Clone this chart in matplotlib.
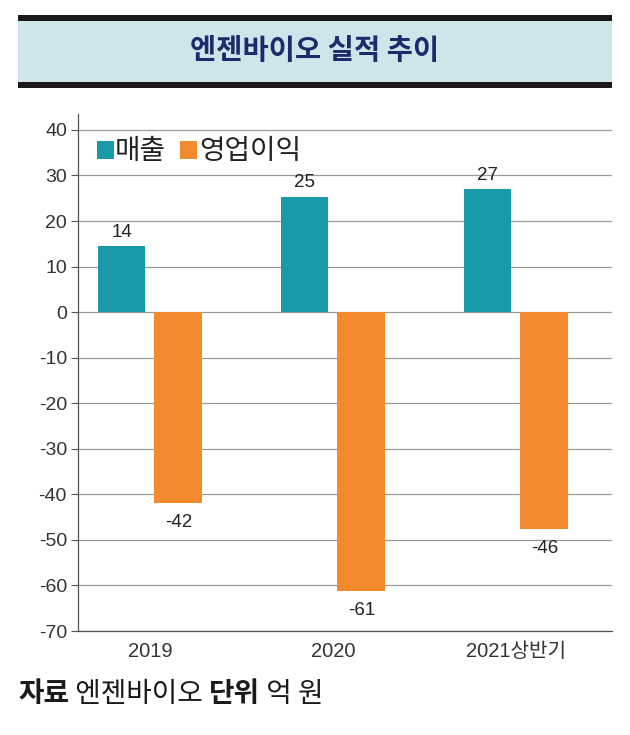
import matplotlib
matplotlib.use("Agg")
import matplotlib.pyplot as plt
import numpy as np
from matplotlib import font_manager
from matplotlib.patches import Rectangle

# data (억 원)
years = ["2019", "2020", "2021상반기"]
sales = [14.5, 25.3, 27.0]          # bar heights as drawn
op_profit = [-42.0, -61.3, -47.7]
sales_labels = ["14", "25", "27"]
op_labels = ["-42", "-61", "-46"]
yticks = [40, 30, 20, 10, 0, -10, -20, -30, -40, -50, -60, -70]

TEAL = "#1a9aa9"
ORANGE = "#f28a30"

names = {f.name for f in font_manager.fontManager.ttflist}
narrow = "Liberation Sans Narrow" if "Liberation Sans Narrow" in names else "Liberation Sans"
KR = "Noto Sans CJK KR"
NUM_FONT = [narrow, KR]
plt.rcParams["font.family"] = [KR, "DejaVu Sans"]

fig = plt.figure(figsize=(6.3, 7.35), dpi=100)
W, H = 630, 735


def fx(px):
    return px / W


def fy(py):
    return 1 - py / H


# title banner
fig.patches.append(Rectangle((fx(18), fy(88)), fx(594), (88 - 15) / H,
                             transform=fig.transFigure, facecolor="#cfe5ea",
                             edgecolor="none"))
for top, bot in [(15, 21), (82, 88)]:
    fig.patches.append(Rectangle((fx(18), fy(bot)), fx(594), (bot - top) / H,
                                 transform=fig.transFigure, facecolor="#1a1a1a",
                                 edgecolor="none"))
fig.text(fx(315), fy(51), "엔젠바이오 실적 추이", ha="center", va="center",
         fontsize=20.5, fontweight="bold", color="#1f2a6b", family=[KR])

ax = fig.add_axes([fx(78), fy(631), fx(612 - 78), (631 - 114) / H])

x = np.arange(len(years))
w = 0.26
off = 0.155
ax.bar(x - off, sales, w, color=TEAL, zorder=3)
ax.bar(x + off, op_profit, w, color=ORANGE, zorder=3)

for i in range(len(years)):
    ax.text(x[i] - off, sales[i] + 1.2, sales_labels[i], ha="center", va="bottom",
            fontsize=13.5, color="#222222", family=NUM_FONT)
    ax.text(x[i] + off, op_profit[i] - 2.3, op_labels[i], ha="center", va="top",
            fontsize=13.5, color="#222222", family=NUM_FONT)

ax.set_xlim(-0.393, 2.525)
ax.set_ylim(-70, 43.5)
ax.set_yticks(yticks)
ax.set_yticklabels([str(t) for t in yticks], family=NUM_FONT, fontsize=14,
                   color="#333333")
ax.set_xticks(x)
ax.set_xticklabels(years, family=NUM_FONT, fontsize=14.5, color="#333333")
ax.tick_params(axis="x", length=0, pad=8)
ax.tick_params(axis="y", length=5, width=0.8, color="#555555", pad=3)
ax.yaxis.grid(True, color="#9a9a9a", linewidth=0.9, zorder=0)
for s in ["top", "right"]:
    ax.spines[s].set_visible(False)
ax.spines["left"].set_color("#555555")
ax.spines["bottom"].set_color("#555555")
ax.spines["left"].set_linewidth(0.9)
ax.spines["bottom"].set_linewidth(0.9)

# legend drawn as squares + text
fig.patches.append(Rectangle((fx(97), fy(159)), fx(17), 18 / H,
                             transform=fig.transFigure, facecolor=TEAL, edgecolor="none"))
fig.text(fx(115), fy(151), "매출", ha="left", va="center", fontsize=20,
         color="#222222", family=[KR])
fig.patches.append(Rectangle((fx(180), fy(159)), fx(17), 18 / H,
                             transform=fig.transFigure, facecolor=ORANGE, edgecolor="none"))
fig.text(fx(199), fy(151), "영업이익", ha="left", va="center", fontsize=20,
         color="#222222", family=[KR])

# footer
parts = [("자료", "bold"), (" 엔젠바이오 ", "normal"), ("단위", "bold"), (" 억 원", "normal")]
fig.canvas.draw()
r = fig.canvas.get_renderer()
xpos = 18
for txt, wt in parts:
    t = fig.text(fx(xpos), fy(694), txt, ha="left", va="center", fontsize=20,
                 fontweight=wt, color="#1a1a1a", family=[KR])
    bb = t.get_window_extent(renderer=r)
    xpos += bb.width

fig.savefig("out.png", dpi=100, facecolor="white")
